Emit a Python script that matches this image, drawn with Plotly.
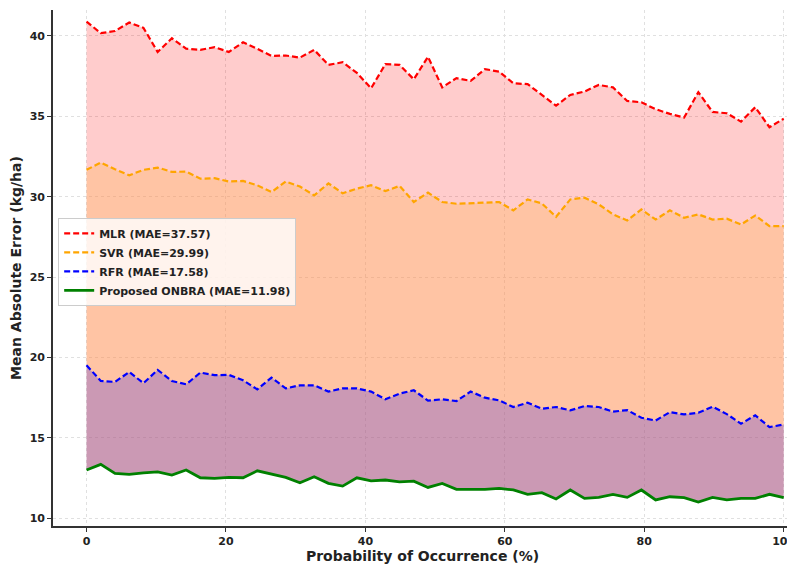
import numpy as np
import plotly.graph_objects as go

x = np.linspace(0, 100, 50)

mlr = [40.89, 40.17, 40.30, 40.83, 40.50, 39.00, 39.85, 39.20, 39.13, 39.30,
       39.00, 39.60, 39.20, 38.75, 38.78, 38.65, 39.13, 38.20, 38.36, 37.70,
       36.74, 38.24, 38.20, 37.30, 38.70, 36.80, 37.37, 37.20, 37.93, 37.78,
       37.05, 37.00, 36.33, 35.66, 36.33, 36.54, 36.95, 36.80, 35.95, 35.87,
       35.44, 35.15, 34.92, 36.50, 35.27, 35.19, 34.67, 35.56, 34.32, 34.85]
svr = [31.67, 32.12, 31.71, 31.33, 31.67, 31.81, 31.54, 31.56, 31.12, 31.15,
       30.94, 30.98, 30.71, 30.29, 30.94, 30.63, 30.08, 30.83, 30.21, 30.50,
       30.71, 30.35, 30.67, 29.67, 30.25, 29.67, 29.56, 29.58, 29.63, 29.67,
       29.15, 29.83, 29.58, 28.75, 29.83, 29.94, 29.52, 28.90, 28.52, 29.21,
       28.58, 29.15, 28.69, 28.90, 28.58, 28.63, 28.27, 28.83, 28.17, 28.17]
rfr = [19.52, 18.54, 18.48, 19.10, 18.40, 19.23, 18.54, 18.33, 19.06, 18.90,
       18.92, 18.58, 18.02, 18.75, 18.08, 18.27, 18.27, 17.88, 18.08, 18.08,
       17.88, 17.40, 17.75, 17.96, 17.32, 17.40, 17.29, 17.88, 17.50, 17.33,
       16.92, 17.19, 16.81, 16.92, 16.71, 16.98, 16.92, 16.63, 16.73, 16.25,
       16.08, 16.60, 16.46, 16.56, 16.94, 16.48, 15.88, 16.40, 15.67, 15.83]
onbra = [13.00, 13.35, 12.79, 12.73, 12.83, 12.89, 12.69, 13.00, 12.52, 12.48,
         12.54, 12.52, 12.95, 12.75, 12.54, 12.21, 12.58, 12.17, 12.00, 12.52,
         12.33, 12.38, 12.27, 12.31, 11.92, 12.17, 11.80, 11.80, 11.80, 11.86,
         11.76, 11.49, 11.59, 11.20, 11.76, 11.24, 11.30, 11.49, 11.30, 11.76,
         11.14, 11.34, 11.28, 11.01, 11.30, 11.14, 11.24, 11.24, 11.49, 11.28]

names = ["MLR (MAE=37.57)", "SVR (MAE=29.99)", "RFR (MAE=17.58)",
         "Proposed ONBRA (MAE=11.98)"]
x_ticks = [0, 20, 40, 60, 80, 100]
y_ticks = [10, 15, 20, 25, 30, 35, 40]

fig = go.Figure()

# filled bands (bottom to top)
fig.add_trace(go.Scatter(x=x, y=onbra, mode="lines", line=dict(width=0),
                         showlegend=False, hoverinfo="skip"))
fig.add_trace(go.Scatter(x=x, y=rfr, mode="lines", line=dict(width=0),
                         fill="tonexty", fillcolor="rgba(168,85,130,0.6)",
                         showlegend=False, hoverinfo="skip"))
fig.add_trace(go.Scatter(x=x, y=svr, mode="lines", line=dict(width=0),
                         fill="tonexty", fillcolor="rgba(255,137,73,0.5)",
                         showlegend=False, hoverinfo="skip"))
fig.add_trace(go.Scatter(x=x, y=mlr, mode="lines", line=dict(width=0),
                         fill="tonexty", fillcolor="rgba(255,0,0,0.2)",
                         showlegend=False, hoverinfo="skip"))

dash = "6px,3px"
fig.add_trace(go.Scatter(x=x, y=mlr, mode="lines", name=names[0],
                         line=dict(color="red", width=2.2, dash=dash)))
fig.add_trace(go.Scatter(x=x, y=svr, mode="lines", name=names[1],
                         line=dict(color="orange", width=2.2, dash=dash)))
fig.add_trace(go.Scatter(x=x, y=rfr, mode="lines", name=names[2],
                         line=dict(color="blue", width=2.2, dash=dash)))
fig.add_trace(go.Scatter(x=x, y=onbra, mode="lines", name=names[3],
                         line=dict(color="green", width=2.8)))

axis_common = dict(
    showgrid=True, gridcolor="#e0e0e0", griddash="dot", gridwidth=1,
    showline=True, linecolor="#333333", linewidth=1.6,
    ticks="outside", ticklen=4, tickcolor="#333333", tickwidth=1.2,
    zeroline=False, ticklabeloverflow="allow",
    tickfont=dict(family="DejaVu Sans", size=11, color="#222222",
                  weight="bold"),
)

# page body has an 8px default margin: shrink the figure to fit the window
fig.update_layout(
    width=787, height=561,
    margin=dict(l=45, r=0, t=2, b=43),
    paper_bgcolor="white", plot_bgcolor="white",
    font=dict(family="DejaVu Sans", color="#222222"),
    xaxis=dict(range=[-4.81, 101.19], tickvals=x_ticks,
               title=dict(text="Probability of Occurrence (%)",
                          font=dict(size=14, weight="bold"), standoff=4),
               **axis_common),
    yaxis=dict(range=[9.52, 41.61], tickvals=y_ticks,
               title=dict(text="Mean Absolute Error (kg/ha)",
                          font=dict(size=14, weight="bold"), standoff=6),
               **axis_common),
    legend=dict(x=0.007, y=0.597, xanchor="left", yanchor="top",
                traceorder="normal",
                bgcolor="rgba(255,255,255,0.8)", bordercolor="#cccccc",
                borderwidth=1,
                font=dict(family="DejaVu Sans", size=11, weight="bold"),
                tracegroupgap=0, itemwidth=30),
)

fig.write_html("out.html")
